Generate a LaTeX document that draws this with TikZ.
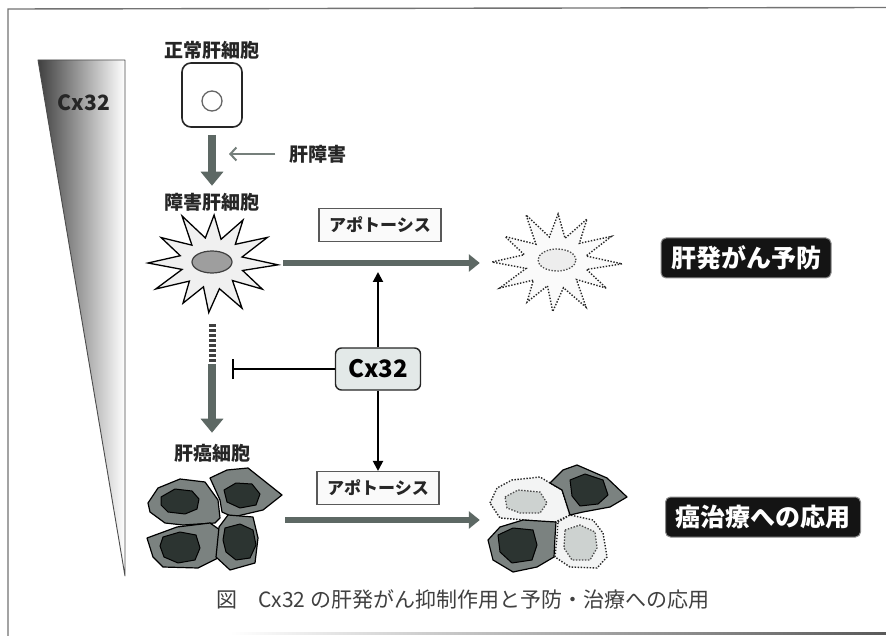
\documentclass[tikz,border=0pt]{standalone}
\usepackage{fontspec}
\setmainfont{Noto Sans CJK JP}
\usetikzlibrary{arrows.meta,shapes.geometric}
\definecolor{arrowgray}{HTML}{5D6864}
\definecolor{cellgray}{HTML}{7B8280}
\definecolor{nucdark}{HTML}{2C3431}
\definecolor{cxfill}{HTML}{E3E9E8}
\definecolor{palecell}{HTML}{F3F4F4}
\definecolor{palenuc}{HTML}{CDD2D0}

\tikzset{
  burst/.pic={
    \path[pic actions, yscale=0.8]
      (2:66) -- (17:32) -- (33:60) -- (47:30) -- (62:64) -- (77:33) --
      (93:62) -- (106:31) -- (120:58) -- (135:32) -- (150:65) -- (165:31) --
      (180:64) -- (196:33) -- (212:60) -- (228:30) -- (243:66) -- (258:32) --
      (272:60) -- (287:31) -- (300:62) -- (315:33) -- (330:64) -- (346:31) -- cycle;
  }
}

\begin{document}
\begin{tikzpicture}[x=1pt,y=-1pt,
  lbl/.style={font=\bfseries\fontsize{19}{21}\selectfont, text=black!85, inner sep=1pt},
  apobox/.style={draw=black!65, line width=1.1pt, fill=black!2, minimum width=122pt,
    minimum height=33pt, inner sep=0pt, font=\bfseries\fontsize{17}{19}\selectfont, text=black!85},
  resbox/.style={fill=black!92, draw=black!45, line width=1pt, rounded corners=5pt, text=white,
    font=\bfseries\fontsize{25}{27}\selectfont, minimum height=40pt, inner xsep=10pt, inner ysep=0pt},
  cxbox/.style={draw=black!85, line width=1.4pt, fill=cxfill, rounded corners=6pt,
    minimum width=85pt, minimum height=42pt, inner sep=0pt, font=\bfseries\fontsize{24}{26}\selectfont},
  region/.style={inner sep=0pt, minimum width=#1},
  grayarrow/.style={draw=arrowgray, line width=6.5pt, -{Triangle[length=11pt,width=17pt]}},
  bigarrow/.style={draw=arrowgray, line width=8pt, -{Triangle[length=14pt,width=22pt]}},
  thinarrow/.style={draw=arrowgray!85, line width=2pt, -{Straight Barb[length=6pt,width=13pt]}},
  blackarrow/.style={draw=black, line width=2pt, -{Triangle[length=10pt,width=10pt]}},
  inhibit/.style={draw=black, line width=2pt, -{Bar[width=20pt,line width=2.2pt]}},
  cancercell/.style={draw=black, line width=1.2pt, fill=cellgray, line join=round},
  cancernuc/.style={draw=black, line width=1pt, fill=nucdark, line join=round},
  deadcell/.style={draw=black!85, line width=1.4pt, dash pattern=on 1.4pt off 1.6pt, fill=palecell},
  deadnuc/.style={draw=black!70, line width=1.3pt, dash pattern=on 1.4pt off 1.6pt, fill=palenuc},
]
\useasboundingbox (0,0) rectangle (886,636);
\fill[white] (0,0) rectangle (886,636);

% outer frame
\draw[black!55, line width=1.4pt] (886,7.5) -- (8,9) -- (8,636);
\shade[left color=white, right color=black!65] (230,632) rectangle (886,634.5);

% Cx32 gradient wedge
\shade[left color=black!75, middle color=black!18, right color=white]
  (38,60) -- (125,60) -- (125,576) -- cycle;
\draw[black!70, line width=0.9pt, line join=round] (38,60) -- (125,60) -- (125,576) -- cycle;
\node[font=\bfseries\fontsize{21}{23}\selectfont, text=black!85] (wcx) at (84,103) {Cx32};

% normal hepatocyte
\node[lbl] (lnormal) at (212,50) {正常肝細胞};
\node[draw=black!85, line width=1.6pt, rounded corners=9pt, minimum width=60pt,
  minimum height=64pt, fill=white] (normal) at (212,95) {};
\node[draw=black!60, line width=1.3pt, circle, minimum size=20pt, inner sep=0pt] (nuc0) at (212,101) {};

% injury
\node[lbl] (injury) at (318,154) {肝障害};
\coordinate (injtip) at (229,154);
\draw[thinarrow, shorten <=13pt] (injury.west) -- (injtip);

% damaged hepatocyte
\node[lbl] (ldamaged) at (212,202) {障害肝細胞};
\draw[bigarrow, shorten <=7pt, shorten >=6pt] (normal) -- (ldamaged);
\pic[draw=black, fill=black!6, line width=1.3pt, line join=miter] (b1) at (212,263) {burst};
\node[ellipse, draw=black!75, fill=black!38, line width=1.2pt, minimum width=40pt,
  minimum height=22pt, inner sep=0pt] (dnuc) at (212,262) {};
\node[region=142pt, minimum height=100pt] (damaged) at (212,263) {};

% apoptotic cell
\pic[deadcell, fill=black!2] (b2) at (556,262) {burst};
\node[ellipse, deadnuc, fill=black!7, minimum width=38pt, minimum height=22pt, inner sep=0pt] (dnuc2) at (557,260) {};
\node[region=152pt, minimum height=100pt] (dead) at (556,263) {};

\node[apobox] (apo1) at (380,225) {アポトーシス};
\draw[grayarrow] (damaged.east) -- (dead.west);
\node[resbox] (prev) at (746,258) {肝発がん予防};

% Cx32 actions
\node[cxbox] (cx) at (378,369) {Cx32};
\coordinate (uptip) at (378,272);
\coordinate (inhib) at (232,369);
\draw[blackarrow] (cx) -- (uptip);
\draw[inhibit] (cx) -- (inhib);

% progression to cancer
\coordinate (dsplit) at (212,364);
\node[lbl] (lcancer) at (212,453) {肝癌細胞};
\draw[draw=black!75, line width=7pt, dash pattern=on 3pt off 2pt, shorten <=11pt] (damaged) -- (dsplit);
\draw[bigarrow] (dsplit) -- ([yshift=10pt]lcancer.north);

% hepatocellular carcinoma cells
\draw[cancercell] (148,503) -- (158,488) -- (180,479) -- (205,482) -- (218,500) -- (220,518) -- (215,523) -- (183,525) -- (165,523) -- (150,512) -- cycle;
\draw[cancernuc] (161,497) -- (175,489) -- (192,491) -- (199,499) -- (197,509) -- (185,514) -- (168,512) -- (161,505) -- cycle;
\draw[cancercell] (210,478) -- (227,470) -- (248,468) -- (282,495) -- (263,510) -- (233,517) -- (222,512) -- (220,500) -- cycle;
\draw[cancernuc] (224,490) -- (236,483) -- (252,484) -- (260,494) -- (256,505) -- (240,508) -- (227,502) -- cycle;
\draw[cancercell] (147,538) -- (177,527) -- (210,523) -- (220,530) -- (220,557) -- (198,568) -- (163,567) -- (153,557) -- cycle;
\draw[cancernuc] (163,537) -- (180,532) -- (196,535) -- (200,548) -- (195,560) -- (178,563) -- (164,557) -- (160,546) -- cycle;
\draw[cancercell] (219,527) -- (228,515) -- (253,517) -- (258,538) -- (255,563) -- (230,570) -- (216,557) -- (218,537) -- cycle;
\draw[cancernuc] (225,528) -- (240,524) -- (253,530) -- (256,545) -- (250,558) -- (236,560) -- (226,552) -- (223,540) -- cycle;
\node[region=140pt, minimum height=105pt] (cancer) at (215,520) {};

\node[apobox] (apo2) at (378,488) {アポトーシス};
\draw[blackarrow] (cx) -- (apo2);

% treated cancer cells
\draw[deadcell] (490,503) -- (497,488) -- (512,480) -- (540,477) -- (550,483) -- (562,490) -- (570,515) -- (553,523) -- (525,520) -- (500,518) -- cycle;
\draw[deadnuc] (505,497) -- (518,490) -- (540,492) -- (547,503) -- (540,513) -- (520,513) -- (507,508) -- cycle;
\draw[deadcell] (558,522) -- (570,515) -- (593,520) -- (603,533) -- (607,557) -- (597,568) -- (570,567) -- (555,557) -- (557,537) -- cycle;
\draw[deadnuc] (565,530) -- (580,525) -- (595,532) -- (597,548) -- (590,560) -- (572,560) -- (564,548) -- cycle;
\draw[cancercell] (550,483) -- (563,470) -- (577,465) -- (607,478) -- (627,497) -- (610,507) -- (583,512) -- (570,515) -- (562,490) -- cycle;
\draw[cancernuc] (570,480) -- (585,474) -- (603,480) -- (608,495) -- (598,504) -- (580,506) -- (572,496) -- cycle;
\draw[cancercell] (488,540) -- (500,527) -- (523,520) -- (556,522) -- (555,537) -- (554,557) -- (537,567) -- (513,572) -- (493,560) -- cycle;
\draw[cancernuc] (498,535) -- (513,528) -- (533,530) -- (537,545) -- (532,560) -- (512,563) -- (500,552) -- cycle;
\node[region=154pt, minimum height=105pt] (treated) at (557,520) {};

\draw[grayarrow] (cancer.east) -- (treated.west);
\node[resbox] (therapy) at (763,517) {癌治療への応用};

% caption
\node[anchor=west, font=\fontsize{21}{23}\selectfont, text=black!75, inner sep=0pt] (cap) at (216,600)
  {図\hspace{1em}Cx32 の肝発がん抑制作用と予防・治療への応用};
\end{tikzpicture}
\end{document}
